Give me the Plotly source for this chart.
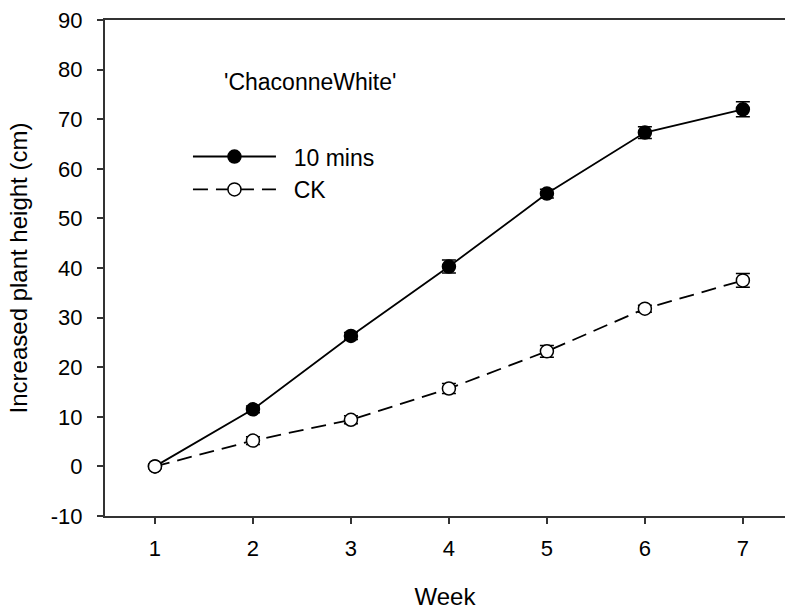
import plotly.graph_objects as go

weeks = [1, 2, 3, 4, 5, 6, 7]
treat_name = "10 mins"
treat_vals = [0.0, 11.5, 26.3, 40.3, 55.0, 67.3, 72.0]
treat_err = [0.3, 0.7, 0.7, 1.3, 0.9, 1.2, 1.5]
ck_name = "CK"
ck_vals = [0.0, 5.2, 9.4, 15.7, 23.2, 31.8, 37.5]
ck_err = [0.3, 0.8, 0.8, 1.0, 1.2, 0.7, 1.4]
y_ticks = [-10, 0, 10, 20, 30, 40, 50, 60, 70, 80, 90]
y_tick_labels = ["-10", "0", "10", "20", "30", "40", "50", "60", "70", "80", "90"]

font_family = "Liberation Sans, Arial, sans-serif"
pad = "\u00a0\u00a0"

fig = go.Figure()
fig.add_trace(go.Scatter(
    x=weeks, y=treat_vals, name=pad + treat_name, mode="lines+markers",
    line=dict(color="black", width=1.8),
    marker=dict(symbol="circle", size=13, color="black", line=dict(color="black", width=1.5)),
    error_y=dict(type="data", array=treat_err, visible=True, color="black", thickness=1.5, width=7),
))
fig.add_trace(go.Scatter(
    x=weeks, y=ck_vals, name=pad + ck_name, mode="lines+markers",
    line=dict(color="black", width=1.8, dash="15px,8px"),
    marker=dict(symbol="circle", size=13, color="white", line=dict(color="black", width=1.5)),
    error_y=dict(type="data", array=ck_err, visible=True, color="black", thickness=1.5, width=7),
))

fig.update_layout(
    width=785, height=614,
    margin=dict(l=105, r=0, t=20, b=98),
    paper_bgcolor="white", plot_bgcolor="white",
    font=dict(family=font_family, size=22, color="black"),
    showlegend=True,
    legend=dict(x=0.122, y=0.768, xanchor="left", yanchor="top",
                bgcolor="rgba(0,0,0,0)", font=dict(size=23), itemwidth=83,
                tracegroupgap=0),
    xaxis=dict(
        range=[0.49, 7.43], tickvals=weeks, ticks="outside", ticklen=6,
        tickwidth=1.5, tickcolor="#333", showline=True, linecolor="#333",
        linewidth=2, mirror=True, showgrid=False, zeroline=False,
        title=dict(text="Week", font=dict(size=24), standoff=28),
        tickfont=dict(size=22), ticklabelstandoff=6,
    ),
    yaxis=dict(
        range=[-10, 90], tickvals=y_ticks, ticktext=y_tick_labels,
        ticks="outside", ticklen=6,
        tickwidth=1.5, tickcolor="#333", showline=True, linecolor="#333",
        linewidth=2, showgrid=False, zeroline=False,
        title=dict(text="Increased plant height (cm)", font=dict(size=24), standoff=16),
        tickfont=dict(size=22), ticklabelstandoff=10,
    ),
    annotations=[dict(text="'ChaconneWhite'", xref="paper", yref="paper",
                      x=0.172, y=0.875, xanchor="left", yanchor="middle",
                      showarrow=False, font=dict(size=23))],
)

fig.write_html("out.html")
